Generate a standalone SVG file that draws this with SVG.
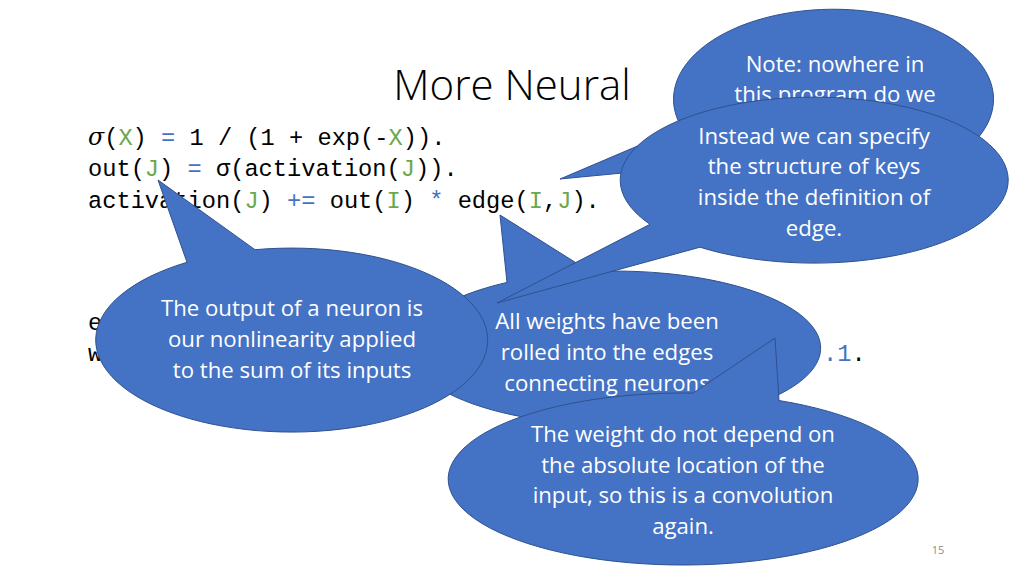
<svg xmlns="http://www.w3.org/2000/svg" width="1024" height="576" viewBox="0 0 1024 576">
<style>
.code{font-family:"Liberation Mono","DejaVu Sans Mono",monospace;font-size:23.7px;fill:#000;white-space:pre}
.v{fill:#6AA84F}
.o{fill:#4472C4}
.bub{fill:#4472C4;stroke:#2F528F;stroke-width:1}
.bt{font-family:"Open Sans","Liberation Sans",sans-serif;font-size:22.2px;fill:#fff;text-anchor:middle}
.title{font-family:"Open Sans","Liberation Sans",sans-serif;font-weight:300;font-size:42px;fill:#000;text-anchor:middle}
</style>
<rect width="1024" height="576" fill="#fff"/>
<g id="slide-text">
<text class="title" x="512" y="100">More Neural</text>
<text class="code" x="88" y="145"><tspan font-family="DejaVu Serif,serif" font-style="italic">σ</tspan>(<tspan class="v">X</tspan>) <tspan class="o">=</tspan> 1 / (1 + exp(-<tspan class="v">X</tspan>)).</text>
<text class="code" x="88" y="176">out(<tspan class="v">J</tspan>) <tspan class="o">=</tspan> σ(activation(<tspan class="v">J</tspan>)).</text>
<text class="code" x="88" y="208">activation(<tspan class="v">J</tspan>) <tspan class="o">+=</tspan> out(<tspan class="v">I</tspan>) <tspan class="o">*</tspan> edge(<tspan class="v">I</tspan>,<tspan class="v">J</tspan>).</text>
<text class="code" x="88" y="330">e</text>
<text class="code" x="88" y="361">w</text>
<text class="code" x="823" y="361"><tspan class="o">.1</tspan>.</text>
<text x="938" y="554" font-family="Open Sans,Liberation Sans,sans-serif" font-size="11px" fill="#8C8C8C" text-anchor="middle">15</text>
</g>
<g id="note">
<path class="bub" d="M 681.5,127.3 A 160 90 0 1 1 721.5,163.5 L 560,179 Z"/>
<text class="bt" x="835" y="72">Note: nowhere in</text>
<text class="bt" x="835" y="102">this program do we</text>
</g>
<g id="all-weights">
<path class="bub" d="M 590,271.6 A 206 77 0 1 1 507,282.4 L 500,215 Z"/>
<text class="bt" x="607" y="329">All weights have been</text>
<text class="bt" x="607" y="360">rolled into the edges</text>
<text class="bt" x="607" y="391">connecting neurons</text>
</g>
<g id="output">
<path class="bub" d="M 255,249.7 A 196 92 0 1 1 187,262.3 L 158,180 Z"/>
<text class="bt" x="292" y="316">The output of a neuron is</text>
<text class="bt" x="292" y="347">our nonlinearity applied</text>
<text class="bt" x="292" y="378">to the sum of its inputs</text>
</g>
<g id="weight">
<path class="bub" d="M 779,400.5 A 235 86 0 1 1 693,393.1 L 775,338 Z"/>
<text class="bt" x="683" y="442">The weight do not depend on</text>
<text class="bt" x="683" y="473">the absolute location of the</text>
<text class="bt" x="683" y="503">input, so this is a convolution</text>
<text class="bt" x="683" y="534">again.</text>
</g>
<g id="instead">
<path class="bub" d="M 650,224.3 A 194 83 0 1 1 700,247.2 L 497,303 Z"/>
<text class="bt" x="814" y="144">Instead we can specify</text>
<text class="bt" x="814" y="174">the structure of keys</text>
<text class="bt" x="814" y="205">inside the definition of</text>
<text class="bt" x="814" y="236">edge.</text>
</g>
<g id="connectors"></g>
</svg>
